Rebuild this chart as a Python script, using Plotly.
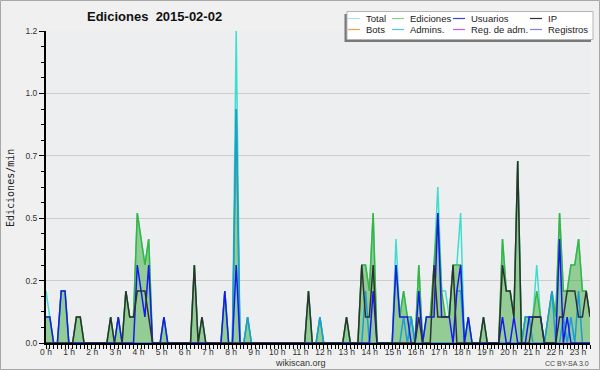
import plotly.graph_objects as go

# ---- data: 10-minute bins (144 per day), values in edits per minute ----
hours = list(range(24))
hour_labels = [f"{h} h" for h in hours]

total = [
    0.2, 0.1, 0, 0, 0.2, 0.2,          # 0 h
    0, 0, 0.1, 0.1, 0, 0,              # 1 h
    0, 0, 0, 0, 0, 0.1,                # 2 h
    0, 0.1, 0, 0.2, 0.1, 0.1,          # 3 h
    0.5, 0.4, 0.3, 0.4, 0, 0,          # 4 h
    0, 0.1, 0, 0, 0, 0,                # 5 h
    0, 0, 0, 0.3, 0, 0.1,              # 6 h
    0, 0, 0, 0, 0, 0.2,                # 7 h
    0, 0, 1.2, 0, 0, 0.1,              # 8 h
    0, 0, 0, 0, 0, 0,                  # 9 h
    0, 0, 0, 0, 0, 0,                  # 10 h
    0, 0, 0, 0.2, 0, 0,                # 11 h
    0.1, 0, 0, 0, 0, 0,                # 12 h
    0, 0.1, 0, 0, 0, 0.3,              # 13 h
    0.3, 0.2, 0.5, 0, 0, 0,            # 14 h
    0, 0, 0.4, 0.1, 0.2, 0.1,          # 15 h
    0.1, 0, 0.3, 0, 0.1, 0.1,          # 16 h
    0.3, 0.6, 0.2, 0.2, 0.1, 0.3,      # 17 h
    0.3, 0.5, 0, 0.1, 0, 0,            # 18 h
    0, 0.1, 0, 0, 0, 0,                # 19 h
    0.4, 0.2, 0.2, 0.1, 0.7, 0,        # 20 h
    0.1, 0.1, 0.1, 0.3, 0.1, 0,        # 21 h
    0.1, 0.2, 0.1, 0.5, 0.2, 0.2,      # 22 h
    0.3, 0.3, 0.4, 0.2, 0.2, 0.1,      # 23 h
]
ediciones = [
    0.1, 0.1, 0, 0, 0.2, 0.2,
    0, 0, 0.1, 0.1, 0, 0,
    0, 0, 0, 0, 0, 0.1,
    0, 0.1, 0, 0.2, 0.1, 0.1,
    0.5, 0.4, 0.3, 0.4, 0, 0,
    0, 0.1, 0, 0, 0, 0,
    0, 0, 0, 0.3, 0, 0.1,
    0, 0, 0, 0, 0, 0.2,
    0, 0, 0.9, 0, 0, 0.1,
    0, 0, 0, 0, 0, 0,
    0, 0, 0, 0, 0, 0,
    0, 0, 0, 0.2, 0, 0,
    0.1, 0, 0, 0, 0, 0,
    0, 0.1, 0, 0, 0, 0.3,
    0.3, 0.2, 0.5, 0, 0, 0,
    0, 0, 0.3, 0.1, 0.2, 0.1,
    0.1, 0, 0.3, 0, 0.1, 0.1,
    0.3, 0.5, 0.2, 0.1, 0.1, 0.3,
    0.3, 0.3, 0, 0.1, 0, 0,
    0, 0.1, 0, 0, 0, 0,
    0.4, 0.2, 0.2, 0.1, 0.7, 0,
    0.1, 0.1, 0.1, 0.2, 0.1, 0,
    0.1, 0.2, 0.1, 0.5, 0.2, 0.2,
    0.3, 0.3, 0.4, 0.2, 0.2, 0.1,
]
usuarios = [
    0.1, 0.1, 0, 0, 0.2, 0.2,
    0, 0, 0, 0, 0, 0,
    0, 0, 0, 0, 0, 0,
    0, 0.1, 0, 0, 0, 0,
    0.3, 0.2, 0.1, 0.3, 0, 0,
    0, 0.1, 0, 0, 0, 0,
    0, 0, 0, 0, 0, 0,
    0, 0, 0, 0, 0, 0.2,
    0, 0, 0.3, 0, 0, 0,
    0, 0, 0, 0, 0, 0,
    0, 0, 0, 0, 0, 0,
    0, 0, 0, 0, 0, 0,
    0, 0, 0, 0, 0, 0,
    0, 0, 0, 0, 0, 0,
    0, 0, 0.2, 0, 0, 0,
    0, 0, 0.3, 0.1, 0.1, 0.1,
    0, 0, 0.2, 0, 0.1, 0.1,
    0.1, 0.5, 0.1, 0.1, 0.1, 0,
    0.2, 0.3, 0, 0.1, 0, 0,
    0, 0, 0, 0, 0, 0,
    0.1, 0, 0, 0.1, 0, 0,
    0, 0.1, 0.1, 0.1, 0.1, 0,
    0, 0, 0, 0.4, 0, 0.1,
    0, 0, 0, 0, 0, 0,
]
ip = [
    0, 0, 0, 0, 0, 0,
    0, 0, 0.1, 0.1, 0, 0,
    0, 0, 0, 0, 0, 0.1,
    0, 0, 0, 0.2, 0.1, 0.1,
    0.2, 0.2, 0.2, 0.1, 0, 0,
    0, 0, 0, 0, 0, 0,
    0, 0, 0, 0.3, 0, 0.1,
    0, 0, 0, 0, 0, 0,
    0, 0, 0, 0, 0, 0,
    0, 0, 0, 0, 0, 0,
    0, 0, 0, 0, 0, 0,
    0, 0, 0, 0.2, 0, 0,
    0, 0, 0, 0, 0, 0,
    0, 0.1, 0, 0, 0, 0.3,
    0.1, 0.1, 0.3, 0, 0, 0,
    0, 0, 0, 0, 0, 0,
    0, 0, 0.1, 0, 0, 0,
    0.3, 0.1, 0.1, 0.1, 0.1, 0.3,
    0, 0, 0, 0, 0, 0,
    0, 0.1, 0, 0, 0, 0,
    0.3, 0.2, 0.2, 0.1, 0.7, 0,
    0, 0, 0.1, 0.1, 0.1, 0,
    0, 0, 0, 0.1, 0.1, 0.2,
    0.2, 0.2, 0.1, 0.1, 0.2, 0.1,
]
admins = [
    0, 0, 0, 0, 0, 0,
    0, 0, 0, 0, 0, 0,
    0, 0, 0, 0, 0, 0,
    0, 0, 0, 0, 0, 0,
    0, 0, 0, 0, 0, 0,
    0, 0, 0, 0, 0, 0,
    0, 0, 0, 0, 0, 0,
    0, 0, 0, 0, 0, 0,
    0, 0, 0.9, 0, 0, 0.1,
    0, 0, 0, 0, 0, 0,
    0, 0, 0, 0, 0, 0,
    0, 0, 0, 0, 0, 0,
    0.1, 0, 0, 0, 0, 0,
    0, 0, 0, 0, 0, 0,
    0.2, 0, 0, 0, 0, 0,
    0, 0, 0, 0, 0.1, 0,
    0.1, 0, 0, 0, 0, 0,
    0, 0, 0, 0, 0, 0,
    0.2, 0.2, 0, 0, 0, 0,
    0, 0, 0, 0, 0, 0,
    0, 0, 0, 0, 0, 0,
    0.1, 0.1, 0, 0, 0, 0,
    0.1, 0.2, 0, 0, 0.1, 0,
    0.1, 0, 0.2, 0, 0, 0,
]
bots = [0] * 144
reg_adm = [0] * 144
registros = [0] * 144

y_tickvals = [0, 0.24, 0.48, 0.72, 0.96, 1.2]
y_ticktext = ["0.0", "0.2", "0.5", "0.7", "1.0", "1.2"]

legend_names = ["Total", "Ediciones", "Usuarios", "IP",
                "Bots", "Admins.", "Reg. de adm.", "Registros"]
legend_colors = ["#A8E6E6", "#88D088", "#4040E0", "#303030",
                 "#F0A040", "#50C4E0", "#D058E0", "#8080F0"]

# ---- figure ----
bins = list(range(len(total)))
fig = go.Figure()

# filled area for Ediciones (no outline), then lines on top
fig.add_trace(go.Scatter(x=bins, y=ediciones, mode="lines", fill="tozeroy",
                         fillcolor="rgba(60,170,60,0.5)",
                         line=dict(color="rgba(0,0,0,0)", width=0)))
fig.add_trace(go.Scatter(x=bins, y=total, mode="lines",
                         line=dict(color="#40DCD0", width=1.5)))
fig.add_trace(go.Scatter(x=bins, y=ediciones, mode="lines",
                         line=dict(color="#3CB43C", width=1.5)))
for ser, col in [(bots, "#F0A040"), (reg_adm, "#D058E0"), (registros, "#8080F0")]:
    fig.add_trace(go.Scatter(x=bins, y=ser, mode="lines",
                             line=dict(color=col, width=1)))
fig.add_trace(go.Scatter(x=bins, y=admins, mode="lines",
                         line=dict(color="#1C9CD8", width=1.5)))
fig.add_trace(go.Scatter(x=bins, y=usuarios, mode="lines",
                         line=dict(color="#1818F0", width=1.5)))
fig.add_trace(go.Scatter(x=bins, y=ip, mode="lines",
                         line=dict(color="#303030", width=1.5)))

ML, MR, MT, MB = 46, 10, 31, 27
W, H = 600, 370
PW, PH = W - ML - MR, H - MT - MB


def px(xp):
    return (xp - ML) / PW


def py(yp):
    return (H - MB - yp) / PH


tickfont = dict(family="Liberation Sans", size=8.5, color="#333333")

fig.update_layout(
    width=W, height=H,
    margin=dict(l=ML, r=MR, t=MT, b=MB, pad=0),
    paper_bgcolor="#F0F0F0",
    plot_bgcolor="#EDEEF0",
    showlegend=False,
    xaxis=dict(range=[0, 143], showline=True, linecolor="black", linewidth=2,
               showgrid=False, zeroline=False,
               tickvals=[6.08 * h for h in hours], ticktext=hour_labels,
               ticks="", tickfont=tickfont,
               minor=dict(ticks="outside", dtick=1, tick0=0, ticklen=4,
                          tickcolor="black", showgrid=False)),
    yaxis=dict(range=[0, 1.2], showline=True, linecolor="black", linewidth=2,
               zeroline=False, showgrid=True, gridcolor="#CCCCCC", gridwidth=1,
               tickvals=y_tickvals, ticktext=y_ticktext,
               ticks="outside", ticklen=5, tickcolor="black", tickfont=tickfont,
               minor=dict(ticks="outside", dtick=0.06, tick0=0, ticklen=3,
                          tickcolor="black", showgrid=False)),
)

shapes = []
# outer frame
shapes.append(dict(type="rect", xref="paper", yref="paper",
                   x0=px(0.5), x1=px(599.5), y0=py(369.5), y1=py(0.5),
                   line=dict(color="#A8A8A8", width=1), fillcolor="rgba(0,0,0,0)",
                   layer="above"))
# legend box shadow + box
shapes.append(dict(type="rect", xref="paper", yref="paper",
                   x0=px(344.5), x1=px(591), y0=py(42), y1=py(14),
                   line=dict(width=0), fillcolor="#787878", layer="above"))
shapes.append(dict(type="rect", xref="paper", yref="paper",
                   x0=px(347), x1=px(593), y0=py(39.5), y1=py(11.5),
                   line=dict(color="#B4B4B4", width=1), fillcolor="white",
                   layer="above"))

annotations = []
col_x = [348, 392, 453, 530]
row_y = [18.5, 29.5]
for k, (name, col) in enumerate(zip(legend_names, legend_colors)):
    r, c = divmod(k, 4)
    x0 = col_x[c]
    yy = row_y[r]
    shapes.append(dict(type="line", xref="paper", yref="paper",
                       x0=px(x0), x1=px(x0 + 12), y0=py(yy), y1=py(yy),
                       line=dict(color=col, width=1.2), layer="above"))
    annotations.append(dict(xref="paper", yref="paper", x=px(x0 + 17), y=py(yy),
                            text=name, showarrow=False, xanchor="left",
                            yanchor="middle", borderpad=0,
                            font=dict(family="Liberation Sans", size=9.5,
                                      color="#222222")))

annotations.append(dict(xref="paper", yref="paper", x=px(154), y=py(17),
                        text="<b>Ediciones\u00a0 2015-02-02</b>", showarrow=False,
                        xanchor="center", yanchor="middle",
                        font=dict(family="Liberation Sans", size=13,
                                  color="#111111")))
annotations.append(dict(xref="paper", yref="paper", x=px(10), y=py(188),
                        text="Ediciones/min", showarrow=False, textangle=-90,
                        xanchor="center", yanchor="middle",
                        font=dict(family="DejaVu Sans Mono", size=10,
                                  color="#222222")))
annotations.append(dict(xref="paper", yref="paper", x=px(300.5), y=py(362.5),
                        text="wikiscan.org", showarrow=False,
                        xanchor="center", yanchor="middle", borderpad=0,
                        font=dict(family="Liberation Sans", size=9,
                                  color="#333333")))
annotations.append(dict(xref="paper", yref="paper", x=px(590), y=py(363.5),
                        text="CC BY-SA 3.0", showarrow=False,
                        xanchor="right", yanchor="middle", borderpad=0,
                        font=dict(family="Liberation Sans", size=7,
                                  color="#444444")))

fig.update_layout(shapes=shapes, annotations=annotations)
fig.write_html("out.html")
